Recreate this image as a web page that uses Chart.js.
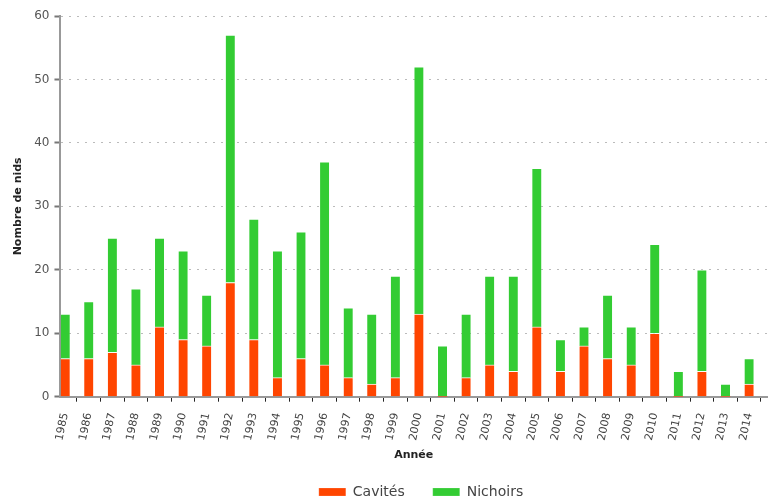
<!DOCTYPE html>
<html>
<head>
<meta charset="utf-8">
<script src="https://cdn.jsdelivr.net/npm/chart.js@4"></script>
<style>
  html, body { margin: 0; padding: 0; background: #fff; }
  #wrap { width: 772px; height: 502px; }
</style>
</head>
<body>
<div id="wrap"><canvas id="nids"></canvas></div>
<script>
// données
const annees = ['1985','1986','1987','1988','1989','1990','1991','1992','1993','1994',
                '1995','1996','1997','1998','1999','2000','2001','2002','2003','2004',
                '2005','2006','2007','2008','2009','2010','2011','2012','2013','2014'];
const cavites = [6, 6, 7, 5, 11, 9, 8, 18, 9, 3, 6, 5, 3, 2, 3, 13, 0, 3, 5, 4, 11, 4, 8, 6, 5, 10, 0, 4, 0, 2];
const nichoirs = [7, 9, 18, 12, 14, 14, 8, 39, 19, 20, 20, 32, 11, 11, 16, 39, 8, 10, 14, 15, 25, 5, 3, 10, 6, 14, 4, 16, 2, 4];
const yTicks = [0, 10, 20, 30, 40, 50, 60];

const police = 'DejaVu Sans';
const gris = '#444';

// axe x linéaire pour caler la première barre contre l'axe des y
const toPoints = arr => arr.map((v, i) => ({ x: i, y: v }));

// décale la légende vers la droite comme sur l'original
const decalageLegende = {
    id: 'decalageLegende',
    afterLayout(chart) {
        chart.legend.left += 28;
        chart.legend.right += 28;
    }
};

const ctx = document.getElementById('nids').getContext('2d');
const chart = new Chart(ctx, {
    type: 'bar',
    data: {
        datasets: [{
            label: 'Cavités',
            data: toPoints(cavites),
            backgroundColor: '#ff4500',
            borderColor: 'rgba(255,255,255,0.7)',
            borderWidth: { top: 1, left: 0, right: 0, bottom: 0 },
            borderSkipped: false,
            barThickness: 9
        }, {
            label: 'Nichoirs',
            data: toPoints(nichoirs),
            backgroundColor: '#33cc33',
            borderColor: 'rgba(255,255,255,0.7)',
            borderWidth: { top: 1, left: 0, right: 0, bottom: 0 },
            borderSkipped: false,
            barThickness: 9
        }]
    },
    plugins: [decalageLegende],
    options: {
        responsive: true,
        maintainAspectRatio: false,
        animation: false,
        layout: { padding: { top: 16, right: -2, left: 12, bottom: -7 } },
        plugins: {
            tooltip: { enabled: false },
            legend: {
                position: 'bottom',
                labels: {
                    boxWidth: 27,
                    boxHeight: 8,
                    padding: 28,
                    color: gris,
                    font: { family: police, size: 14 }
                }
            }
        },
        scales: {
            x: {
                type: 'linear',
                stacked: true,
                offset: false,
                min: -0.2,
                max: 29.76,
                afterBuildTicks: s => { s.ticks = annees.map((_, i) => ({ value: i })); },
                ticks: {
                    autoSkip: false,
                    minRotation: 78,
                    maxRotation: 78,
                    padding: 10,
                    color: gris,
                    font: { family: police, size: 11 },
                    callback: v => annees[v]
                },
                grid: {
                    drawOnChartArea: false,
                    tickLength: 5,
                    tickColor: '#222',
                    tickWidth: 1
                },
                border: { color: '#999', width: 2 },
                title: {
                    display: true,
                    text: 'Année',
                    color: '#222',
                    padding: { top: -3, bottom: -5 },
                    font: { family: police, size: 11, weight: 'bold' }
                }
            },
            y: {
                stacked: true,
                min: 0,
                max: 60,
                afterBuildTicks: s => { s.ticks = yTicks.map(v => ({ value: v })); },
                ticks: {
                    padding: 5,
                    color: '#555',
                    font: { family: police, size: 12 }
                },
                grid: {
                    color: '#bbb',
                    lineWidth: 1,
                    tickLength: 6,
                    tickColor: '#777',
                    tickWidth: 2,
                    tickBorderDash: []
                },
                border: { color: '#999', width: 2, dash: [2, 6] },
                title: {
                    display: true,
                    text: 'Nombre de nids',
                    color: '#222',
                    padding: { top: 0, bottom: 4 },
                    font: { family: police, size: 11, weight: 'bold' }
                }
            }
        }
    }
});
</script>
</body>
</html>
